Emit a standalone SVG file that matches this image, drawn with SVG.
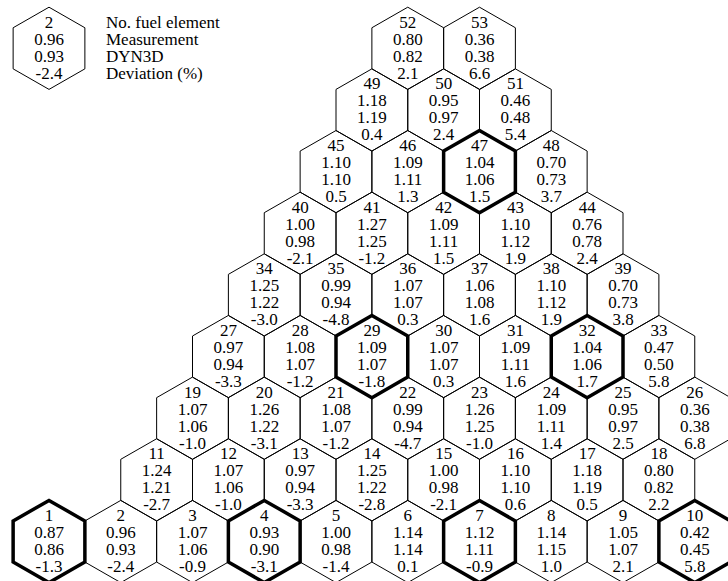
<svg xmlns="http://www.w3.org/2000/svg" xmlns:xlink="http://www.w3.org/1999/xlink" width="728" height="581" viewBox="0 0 728 581">
<style>
.h{fill:none;stroke:#000;stroke-width:1}
.k{fill:none;stroke:#000;stroke-width:3.5;stroke-linejoin:miter}
text{font-family:"Liberation Serif","Times New Roman",serif;font-size:17px;fill:#000;text-anchor:middle}
text.l{text-anchor:start}
</style>
<defs>
<path id="hx" d="M0,-41.1 L35.875,-20.55 L35.875,20.55 L0,41.1 L-35.875,20.55 L-35.875,-20.55 Z"/>
</defs>
<rect width="728" height="581" fill="#fff"/>
<g id="legend" transform="translate(49,48.3)">
<use href="#hx" class="h"/>
<text y="-20.5">2</text><text y="-3.5">0.96</text><text y="13.5">0.93</text><text y="30.5">-2.4</text>
<text class="l" x="57" y="-20.5">No. fuel element</text>
<text class="l" x="57" y="-3.5">Measurement</text>
<text class="l" x="57" y="13.5">DYN3D</text>
<text class="l" x="57" y="30.5">Deviation (%)</text>
</g>
<g id="nodes">
<g id="fe2" transform="translate(120.75,541.5)"><use href="#hx" class="h"/><text y="-20.5">2</text><text y="-3.5">0.96</text><text y="13.5">0.93</text><text y="30.5">-2.4</text></g>
<g id="fe3" transform="translate(192.5,541.5)"><use href="#hx" class="h"/><text y="-20.5">3</text><text y="-3.5">1.07</text><text y="13.5">1.06</text><text y="30.5">-0.9</text></g>
<g id="fe5" transform="translate(336,541.5)"><use href="#hx" class="h"/><text y="-20.5">5</text><text y="-3.5">1.00</text><text y="13.5">0.98</text><text y="30.5">-1.4</text></g>
<g id="fe6" transform="translate(407.75,541.5)"><use href="#hx" class="h"/><text y="-20.5">6</text><text y="-3.5">1.14</text><text y="13.5">1.14</text><text y="30.5">0.1</text></g>
<g id="fe8" transform="translate(551.25,541.5)"><use href="#hx" class="h"/><text y="-20.5">8</text><text y="-3.5">1.14</text><text y="13.5">1.15</text><text y="30.5">1.0</text></g>
<g id="fe9" transform="translate(623,541.5)"><use href="#hx" class="h"/><text y="-20.5">9</text><text y="-3.5">1.05</text><text y="13.5">1.07</text><text y="30.5">2.1</text></g>
<g id="fe11" transform="translate(156.625,479.85)"><use href="#hx" class="h"/><text y="-20.5">11</text><text y="-3.5">1.24</text><text y="13.5">1.21</text><text y="30.5">-2.7</text></g>
<g id="fe12" transform="translate(228.375,479.85)"><use href="#hx" class="h"/><text y="-20.5">12</text><text y="-3.5">1.07</text><text y="13.5">1.06</text><text y="30.5">-1.0</text></g>
<g id="fe13" transform="translate(300.125,479.85)"><use href="#hx" class="h"/><text y="-20.5">13</text><text y="-3.5">0.97</text><text y="13.5">0.94</text><text y="30.5">-3.3</text></g>
<g id="fe14" transform="translate(371.875,479.85)"><use href="#hx" class="h"/><text y="-20.5">14</text><text y="-3.5">1.25</text><text y="13.5">1.22</text><text y="30.5">-2.8</text></g>
<g id="fe15" transform="translate(443.625,479.85)"><use href="#hx" class="h"/><text y="-20.5">15</text><text y="-3.5">1.00</text><text y="13.5">0.98</text><text y="30.5">-2.1</text></g>
<g id="fe16" transform="translate(515.375,479.85)"><use href="#hx" class="h"/><text y="-20.5">16</text><text y="-3.5">1.10</text><text y="13.5">1.10</text><text y="30.5">0.6</text></g>
<g id="fe17" transform="translate(587.125,479.85)"><use href="#hx" class="h"/><text y="-20.5">17</text><text y="-3.5">1.18</text><text y="13.5">1.19</text><text y="30.5">0.5</text></g>
<g id="fe18" transform="translate(658.875,479.85)"><use href="#hx" class="h"/><text y="-20.5">18</text><text y="-3.5">0.80</text><text y="13.5">0.82</text><text y="30.5">2.2</text></g>
<g id="fe19" transform="translate(192.5,418.2)"><use href="#hx" class="h"/><text y="-20.5">19</text><text y="-3.5">1.07</text><text y="13.5">1.06</text><text y="30.5">-1.0</text></g>
<g id="fe20" transform="translate(264.25,418.2)"><use href="#hx" class="h"/><text y="-20.5">20</text><text y="-3.5">1.26</text><text y="13.5">1.22</text><text y="30.5">-3.1</text></g>
<g id="fe21" transform="translate(336,418.2)"><use href="#hx" class="h"/><text y="-20.5">21</text><text y="-3.5">1.08</text><text y="13.5">1.07</text><text y="30.5">-1.2</text></g>
<g id="fe22" transform="translate(407.75,418.2)"><use href="#hx" class="h"/><text y="-20.5">22</text><text y="-3.5">0.99</text><text y="13.5">0.94</text><text y="30.5">-4.7</text></g>
<g id="fe23" transform="translate(479.5,418.2)"><use href="#hx" class="h"/><text y="-20.5">23</text><text y="-3.5">1.26</text><text y="13.5">1.25</text><text y="30.5">-1.0</text></g>
<g id="fe24" transform="translate(551.25,418.2)"><use href="#hx" class="h"/><text y="-20.5">24</text><text y="-3.5">1.09</text><text y="13.5">1.11</text><text y="30.5">1.4</text></g>
<g id="fe25" transform="translate(623,418.2)"><use href="#hx" class="h"/><text y="-20.5">25</text><text y="-3.5">0.95</text><text y="13.5">0.97</text><text y="30.5">2.5</text></g>
<g id="fe26" transform="translate(694.75,418.2)"><use href="#hx" class="h"/><text y="-20.5">26</text><text y="-3.5">0.36</text><text y="13.5">0.38</text><text y="30.5">6.8</text></g>
<g id="fe27" transform="translate(228.375,356.55)"><use href="#hx" class="h"/><text y="-20.5">27</text><text y="-3.5">0.97</text><text y="13.5">0.94</text><text y="30.5">-3.3</text></g>
<g id="fe28" transform="translate(300.125,356.55)"><use href="#hx" class="h"/><text y="-20.5">28</text><text y="-3.5">1.08</text><text y="13.5">1.07</text><text y="30.5">-1.2</text></g>
<g id="fe30" transform="translate(443.625,356.55)"><use href="#hx" class="h"/><text y="-20.5">30</text><text y="-3.5">1.07</text><text y="13.5">1.07</text><text y="30.5">0.3</text></g>
<g id="fe31" transform="translate(515.375,356.55)"><use href="#hx" class="h"/><text y="-20.5">31</text><text y="-3.5">1.09</text><text y="13.5">1.11</text><text y="30.5">1.6</text></g>
<g id="fe33" transform="translate(658.875,356.55)"><use href="#hx" class="h"/><text y="-20.5">33</text><text y="-3.5">0.47</text><text y="13.5">0.50</text><text y="30.5">5.8</text></g>
<g id="fe34" transform="translate(264.25,294.9)"><use href="#hx" class="h"/><text y="-20.5">34</text><text y="-3.5">1.25</text><text y="13.5">1.22</text><text y="30.5">-3.0</text></g>
<g id="fe35" transform="translate(336,294.9)"><use href="#hx" class="h"/><text y="-20.5">35</text><text y="-3.5">0.99</text><text y="13.5">0.94</text><text y="30.5">-4.8</text></g>
<g id="fe36" transform="translate(407.75,294.9)"><use href="#hx" class="h"/><text y="-20.5">36</text><text y="-3.5">1.07</text><text y="13.5">1.07</text><text y="30.5">0.3</text></g>
<g id="fe37" transform="translate(479.5,294.9)"><use href="#hx" class="h"/><text y="-20.5">37</text><text y="-3.5">1.06</text><text y="13.5">1.08</text><text y="30.5">1.6</text></g>
<g id="fe38" transform="translate(551.25,294.9)"><use href="#hx" class="h"/><text y="-20.5">38</text><text y="-3.5">1.10</text><text y="13.5">1.12</text><text y="30.5">1.9</text></g>
<g id="fe39" transform="translate(623,294.9)"><use href="#hx" class="h"/><text y="-20.5">39</text><text y="-3.5">0.70</text><text y="13.5">0.73</text><text y="30.5">3.8</text></g>
<g id="fe40" transform="translate(300.125,233.25)"><use href="#hx" class="h"/><text y="-20.5">40</text><text y="-3.5">1.00</text><text y="13.5">0.98</text><text y="30.5">-2.1</text></g>
<g id="fe41" transform="translate(371.875,233.25)"><use href="#hx" class="h"/><text y="-20.5">41</text><text y="-3.5">1.27</text><text y="13.5">1.25</text><text y="30.5">-1.2</text></g>
<g id="fe42" transform="translate(443.625,233.25)"><use href="#hx" class="h"/><text y="-20.5">42</text><text y="-3.5">1.09</text><text y="13.5">1.11</text><text y="30.5">1.5</text></g>
<g id="fe43" transform="translate(515.375,233.25)"><use href="#hx" class="h"/><text y="-20.5">43</text><text y="-3.5">1.10</text><text y="13.5">1.12</text><text y="30.5">1.9</text></g>
<g id="fe44" transform="translate(587.125,233.25)"><use href="#hx" class="h"/><text y="-20.5">44</text><text y="-3.5">0.76</text><text y="13.5">0.78</text><text y="30.5">2.4</text></g>
<g id="fe45" transform="translate(336,171.6)"><use href="#hx" class="h"/><text y="-20.5">45</text><text y="-3.5">1.10</text><text y="13.5">1.10</text><text y="30.5">0.5</text></g>
<g id="fe46" transform="translate(407.75,171.6)"><use href="#hx" class="h"/><text y="-20.5">46</text><text y="-3.5">1.09</text><text y="13.5">1.11</text><text y="30.5">1.3</text></g>
<g id="fe48" transform="translate(551.25,171.6)"><use href="#hx" class="h"/><text y="-20.5">48</text><text y="-3.5">0.70</text><text y="13.5">0.73</text><text y="30.5">3.7</text></g>
<g id="fe49" transform="translate(371.875,109.95)"><use href="#hx" class="h"/><text y="-20.5">49</text><text y="-3.5">1.18</text><text y="13.5">1.19</text><text y="30.5">0.4</text></g>
<g id="fe50" transform="translate(443.625,109.95)"><use href="#hx" class="h"/><text y="-20.5">50</text><text y="-3.5">0.95</text><text y="13.5">0.97</text><text y="30.5">2.4</text></g>
<g id="fe51" transform="translate(515.375,109.95)"><use href="#hx" class="h"/><text y="-20.5">51</text><text y="-3.5">0.46</text><text y="13.5">0.48</text><text y="30.5">5.4</text></g>
<g id="fe52" transform="translate(407.75,48.3)"><use href="#hx" class="h"/><text y="-20.5">52</text><text y="-3.5">0.80</text><text y="13.5">0.82</text><text y="30.5">2.1</text></g>
<g id="fe53" transform="translate(479.5,48.3)"><use href="#hx" class="h"/><text y="-20.5">53</text><text y="-3.5">0.36</text><text y="13.5">0.38</text><text y="30.5">6.6</text></g>
<g id="fe1" transform="translate(49,541.5)"><use href="#hx" class="k"/><text y="-20.5">1</text><text y="-3.5">0.87</text><text y="13.5">0.86</text><text y="30.5">-1.3</text></g>
<g id="fe4" transform="translate(264.25,541.5)"><use href="#hx" class="k"/><text y="-20.5">4</text><text y="-3.5">0.93</text><text y="13.5">0.90</text><text y="30.5">-3.1</text></g>
<g id="fe7" transform="translate(479.5,541.5)"><use href="#hx" class="k"/><text y="-20.5">7</text><text y="-3.5">1.12</text><text y="13.5">1.11</text><text y="30.5">-0.9</text></g>
<g id="fe10" transform="translate(694.75,541.5)"><use href="#hx" class="k"/><text y="-20.5">10</text><text y="-3.5">0.42</text><text y="13.5">0.45</text><text y="30.5">5.8</text></g>
<g id="fe29" transform="translate(371.875,356.55)"><use href="#hx" class="k"/><text y="-20.5">29</text><text y="-3.5">1.09</text><text y="13.5">1.07</text><text y="30.5">-1.8</text></g>
<g id="fe32" transform="translate(587.125,356.55)"><use href="#hx" class="k"/><text y="-20.5">32</text><text y="-3.5">1.04</text><text y="13.5">1.06</text><text y="30.5">1.7</text></g>
<g id="fe47" transform="translate(479.5,171.6)"><use href="#hx" class="k"/><text y="-20.5">47</text><text y="-3.5">1.04</text><text y="13.5">1.06</text><text y="30.5">1.5</text></g>
</g>
<g id="connectors"/>
</svg>
